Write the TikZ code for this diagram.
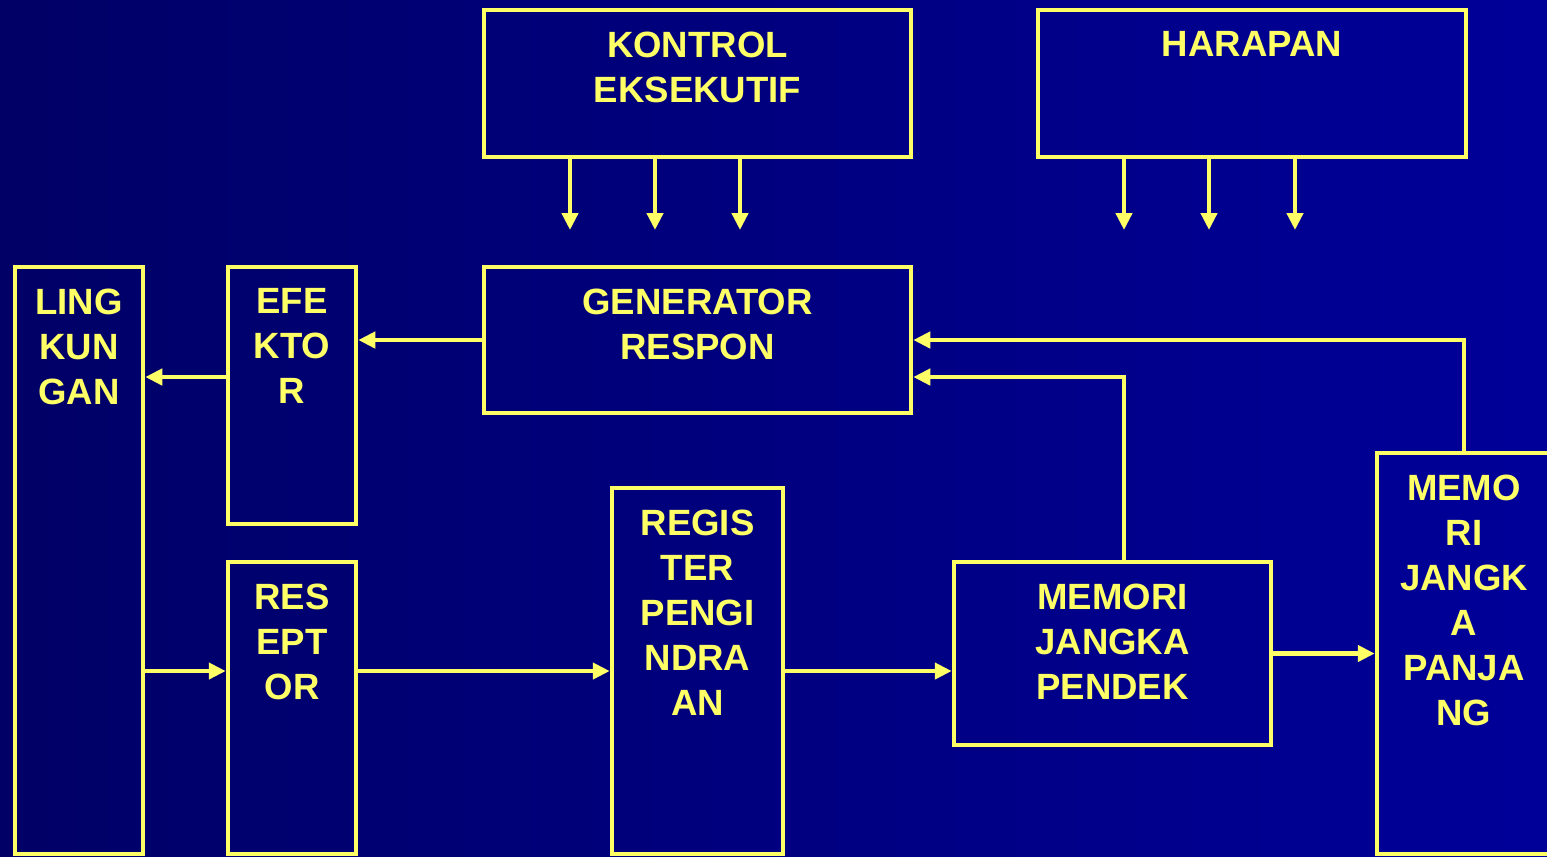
\documentclass[tikz,border=0pt]{standalone}
\usepackage{fontspec}
\setmainfont{Liberation Sans}
\usepackage{tikz}
\usetikzlibrary{positioning,arrows.meta,calc}

\definecolor{bgleft}{HTML}{000066}
\definecolor{bgright}{HTML}{000099}
\definecolor{kuning}{HTML}{FFFF66}

\begin{document}
\begin{tikzpicture}[
    kotak/.style={draw=kuning, line width=0.045cm, rectangle, inner sep=0pt},
    isi/.style={anchor=north, inner sep=0pt, yshift=-6.6pt, align=center, text=kuning,
        font=\fontsize{10.4}{12.8}\selectfont\bfseries},
    arrow/.style={-{Triangle[width=0.16cm,length=0.17cm]}, draw=kuning, line width=0.045cm}
]

% --- Latar belakang ---
\clip (0,0) rectangle (15.47,-8.56);
\shade[left color=bgleft, right color=bgright] (0,0) rectangle (15.47,-8.56);

% --- Baris atas ---
\node[kotak, minimum width=4.27cm, minimum height=1.47cm,
    label={[isi]north:KONTROL\\EKSEKUTIF}] (kontrol) at (6.975,-0.835) {};
\node[kotak, minimum width=4.28cm, minimum height=1.47cm,
    label={[isi]north:HARAPAN}] (harapan) at (12.52,-0.835) {};

% --- Generator respon ---
\node[kotak, minimum width=4.27cm, minimum height=1.46cm,
    label={[isi]north:GENERATOR\\RESPON}] (generator) at (6.975,-3.40) {};

% --- Kolom kiri ---
\node[kotak, minimum width=1.28cm, minimum height=5.87cm,
    label={[isi]north:LING\\KUN\\GAN}] (lingkungan) at (0.79,-5.605) {};
\node[kotak, minimum width=1.28cm, minimum height=2.57cm,
    label={[isi]north:EFE\\KTO\\R}] (efektor) at (2.92,-3.955) {};
\node[kotak, minimum width=1.28cm, minimum height=2.92cm,
    label={[isi]north:RES\\EPT\\OR}] (reseptor) at (2.92,-7.08) {};

% --- Register dan memori ---
\node[kotak, minimum width=1.71cm, minimum height=3.66cm,
    label={[isi]north:REGIS\\TER\\PENGI\\NDRA\\AN}] (register) at (6.975,-6.71) {};
\node[kotak, minimum width=3.17cm, minimum height=1.83cm,
    label={[isi]north:MEMORI\\JANGKA\\PENDEK}] (pendek) at (11.125,-6.535) {};
\node[kotak, minimum width=1.74cm, minimum height=4.01cm,
    label={[isi]north:MEMO\\RI\\JANGK\\A\\PANJA\\NG}] (panjang) at (14.64,-6.535) {};

% --- Panah turun dari kontrol dan harapan ---
\foreach \i/\x in {1/5.70,2/6.55,3/7.40} {
    \coordinate (k\i) at (\x,-2.30);
    \draw[arrow] (k\i |- kontrol.south) -- (k\i);
}
\foreach \i/\x in {1/11.24,2/12.09,3/12.95} {
    \coordinate (h\i) at (\x,-2.30);
    \draw[arrow] (h\i |- harapan.south) -- (h\i);
}

% --- Alur respon ---
\draw[arrow] (generator.west) -- (generator.west -| efektor.east);
\draw[arrow] ([yshift=0.185cm]efektor.west) -- ([yshift=0.185cm]efektor.west -| lingkungan.east);

% --- Alur masukan ---
\draw[arrow] (lingkungan.east |- register) -- (reseptor.west |- register);
\draw[arrow] (reseptor.east |- register) -- (register.west);
\draw[arrow] (register.east) -- (register.east -| pendek.west);
\draw[arrow] (pendek.east) -- (pendek.east -| panjang.west);

% --- Umpan balik ke generator ---
\draw[arrow] (h1 |- pendek.north) |- ([yshift=-0.37cm]generator.east);
\draw[arrow] (panjang.north) |- (generator.east);

\end{tikzpicture}
\end{document}
